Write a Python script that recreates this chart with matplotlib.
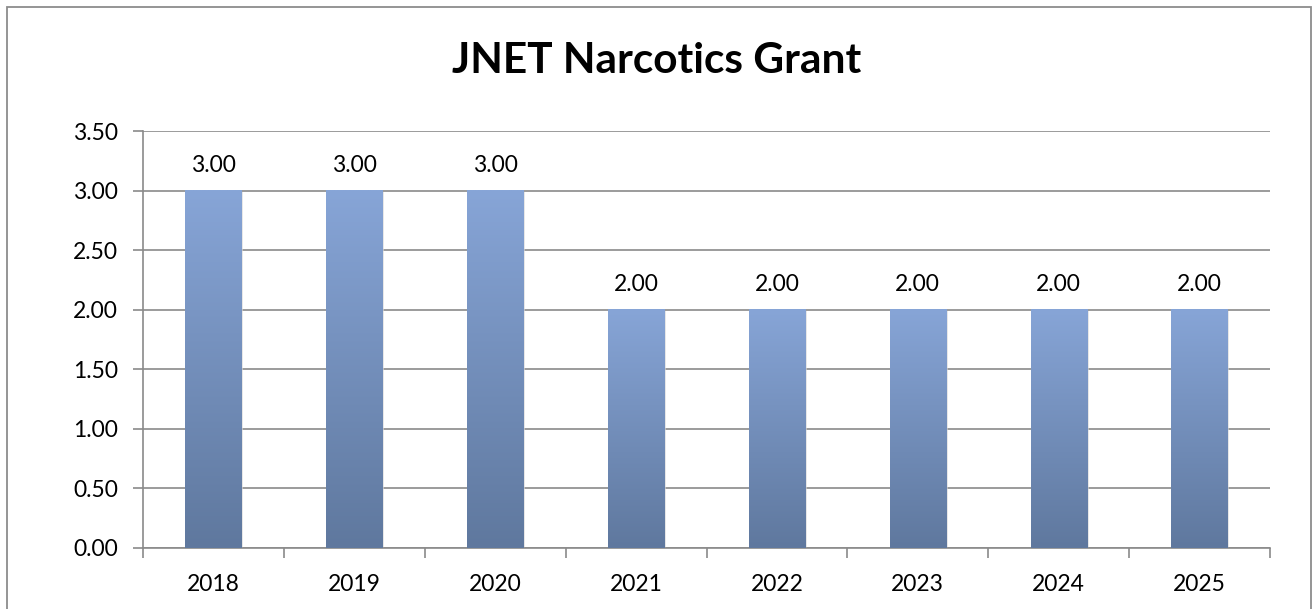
import numpy as np
import matplotlib
matplotlib.use('Agg')
import matplotlib.pyplot as plt
from matplotlib.patches import Rectangle
from matplotlib.colors import LinearSegmentedColormap

years = ['2018', '2019', '2020', '2021', '2022', '2023', '2024', '2025']
values = [3.00, 3.00, 3.00, 2.00, 2.00, 2.00, 2.00, 2.00]
yticks = [0.0, 0.5, 1.0, 1.5, 2.0, 2.5, 3.0, 3.5]

plt.rcParams['font.family'] = ['Lato', 'DejaVu Sans']

W, H = 1313, 609
fig = plt.figure(figsize=(W / 100, H / 100), dpi=100)
fig.patch.set_facecolor('white')

# outer chart border
fig.add_artist(Rectangle((7 / W, -0.02), (1311 - 7) / W, (H - 7) / H + 0.02,
                         transform=fig.transFigure, fill=False,
                         edgecolor='#8c8c8c', lw=1.3))

ax = fig.add_axes([143 / W, (H - 548) / H, (1270 - 143) / W, (548 - 131) / H])

grad = LinearSegmentedColormap.from_list('bar', ['#5f789e', '#87a5d7'])
bw = 0.40
x = np.arange(len(years))
for xi, v in zip(x, values):
    # faint shadow on the right side of each bar
    ax.add_patch(Rectangle((xi - bw / 2 + 0.012, 0), bw, v - 0.01,
                           facecolor='#d8d8d8', edgecolor='none', zorder=2, alpha=0.6))
    img = np.linspace(0, 1, 256).reshape(-1, 1)
    ax.imshow(img, cmap=grad, origin='lower', aspect='auto',
              extent=[xi - bw / 2, xi + bw / 2, 0, v], zorder=3)
    ax.annotate('%.2f' % v, (xi, v), xytext=(0, 10.5), textcoords='offset points',
                ha='center', va='bottom', fontsize=16.5, color='black')

ax.set_xlim(-0.5, len(years) - 0.5)
ax.set_ylim(0, 3.5)
ax.set_yticks(yticks)
ax.set_yticklabels(['%.2f' % t for t in yticks], fontsize=16.5)
ax.yaxis.grid(True, color='#8a8a8a', lw=1.2, zorder=0)
ax.set_axisbelow(True)

ax.set_xticks(x)
ax.set_xticklabels(years, fontsize=16.5)
ax.set_xticks(np.arange(-0.5, len(years)), minor=True)
ax.tick_params(axis='x', which='major', length=0, pad=19)
ax.tick_params(axis='x', which='minor', length=7, width=1.2, color='#8a8a8a')
ax.tick_params(axis='y', length=7, width=1.2, color='#8a8a8a', pad=11)

for s in ['top', 'right']:
    ax.spines[s].set_visible(False)
for s in ['left', 'bottom']:
    ax.spines[s].set_color('#8a8a8a')
    ax.spines[s].set_linewidth(1.2)

fig.text(657 / W, 1 - 61 / H, 'JNET Narcotics Grant', ha='center', va='center',
         fontsize=30.5, fontweight='bold')

fig.savefig('out.png', dpi=100)
